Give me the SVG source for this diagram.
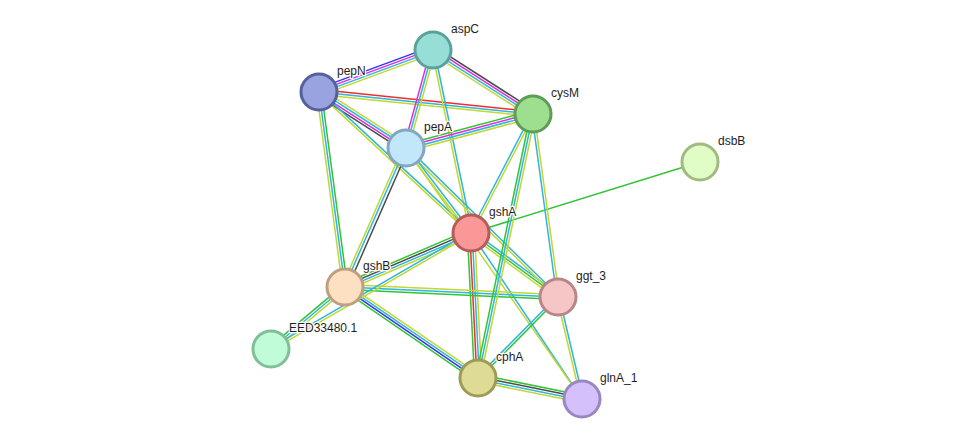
<svg xmlns="http://www.w3.org/2000/svg" width="975" height="445" viewBox="0 0 975 445">
<style>
line{stroke-width:1.5;fill:none}
.g{stroke:#33c433}.r{stroke:#f32b2b}.b{stroke:#3333f5}.m{stroke:#dc2adc}.c{stroke:#2eb6dc}.y{stroke:#c1d733}.k{stroke:#4a4a4a}
circle{stroke-width:3}
text{font-family:"Liberation Sans",Arial,sans-serif;font-size:12px;fill:#1e1e1e;stroke:#fff;stroke-width:2.5px;paint-order:stroke;stroke-linejoin:round}
</style>
<rect width="975" height="445" fill="#fff"/>
<g id="edges">
<g transform="translate(319,92) rotate(-20.23)"><line class="b" x2="121.5" y1="-3.6" y2="-3.6"/><line class="m" x2="121.5" y1="-1.2" y2="-1.2"/><line class="c" x2="121.5" y1="1.2" y2="1.2"/><line class="y" x2="121.5" y1="3.6" y2="3.6"/></g>
<g transform="translate(433,50) rotate(32.62)"><line class="k" x2="118.7" y1="-3.6" y2="-3.6"/><line class="m" x2="118.7" y1="-1.2" y2="-1.2"/><line class="c" x2="118.7" y1="1.2" y2="1.2"/><line class="y" x2="118.7" y1="3.6" y2="3.6"/></g>
<g transform="translate(319,92) rotate(5.87)"><line class="r" x2="215.1" y1="-2.4" y2="-2.4"/><line class="c" x2="215.1" y1="0" y2="0"/><line class="y" x2="215.1" y1="2.4" y2="2.4"/></g>
<g transform="translate(319,92) rotate(32.76)"><line class="y" x2="103.5" y1="-3.6" y2="-3.6"/><line class="c" x2="103.5" y1="-1.2" y2="-1.2"/><line class="m" x2="103.5" y1="1.2" y2="1.2"/><line class="k" x2="103.5" y1="3.6" y2="3.6"/></g>
<g transform="translate(319,92) rotate(42.85)"><line class="c" x2="207.3" y1="-1.2" y2="-1.2"/><line class="y" x2="207.3" y1="1.2" y2="1.2"/></g>
<g transform="translate(433,50) rotate(105.4)"><line class="y" x2="101.7" y1="-2.4" y2="-2.4"/><line class="c" x2="101.7" y1="0" y2="0"/><line class="m" x2="101.7" y1="2.4" y2="2.4"/></g>
<g transform="translate(433,50) rotate(78.27)"><line class="c" x2="186.9" y1="-1.2" y2="-1.2"/><line class="y" x2="186.9" y1="1.2" y2="1.2"/></g>
<g transform="translate(406,148) rotate(-14.99)"><line class="g" x2="131.5" y1="-3.6" y2="-3.6"/><line class="m" x2="131.5" y1="-1.2" y2="-1.2"/><line class="c" x2="131.5" y1="1.2" y2="1.2"/><line class="y" x2="131.5" y1="3.6" y2="3.6"/></g>
<g transform="translate(319,92) rotate(82.4)"><line class="g" x2="196.7" y1="-2.4" y2="-2.4"/><line class="c" x2="196.7" y1="0" y2="0"/><line class="y" x2="196.7" y1="2.4" y2="2.4"/></g>
<g transform="translate(406,148) rotate(113.7)"><line class="k" x2="151.8" y1="-2.6" y2="-2.6"/><line class="c" x2="151.8" y1="0.6" y2="0.6"/><line class="y" x2="151.8" y1="3" y2="3"/></g>
<g transform="translate(533,114) rotate(117.5)"><line class="y" x2="134.2" y1="-1.2" y2="-1.2"/><line class="c" x2="134.2" y1="1.2" y2="1.2"/></g>
<g transform="translate(345,287) rotate(-23.2)"><line class="g" x2="137.1" y1="-3.6" y2="-3.6"/><line class="k" x2="137.1" y1="-1.2" y2="-1.2"/><line class="c" x2="137.1" y1="1.2" y2="1.2"/><line class="y" x2="137.1" y1="3.6" y2="3.6"/></g>
<line class="g" x1="471" y1="233" x2="700" y2="162"/>
<g transform="translate(471,233) rotate(87.2)"><line class="y" x2="145.2" y1="-3.6" y2="-3.6"/><line class="c" x2="145.2" y1="-1.2" y2="-1.2"/><line class="r" x2="145.2" y1="1.2" y2="1.2"/><line class="g" x2="145.2" y1="3.6" y2="3.6"/></g>
<g transform="translate(471,233) rotate(36.3)"><line class="c" x2="108" y1="-2.4" y2="-2.4"/><line class="g" x2="108" y1="0" y2="0"/><line class="y" x2="108" y1="2.4" y2="2.4"/></g>
<g transform="translate(406,148) rotate(44.43)"><line class="c" x2="212.9" y1="-1.2" y2="-1.2"/><line class="y" x2="212.9" y1="1.2" y2="1.2"/></g>
<g transform="translate(406,148) rotate(52.6)"><line class="c" x2="107" y1="-1.2" y2="-1.2"/><line class="y" x2="107" y1="1.2" y2="1.2"/></g>
<line class="c" x1="471" y1="233" x2="582" y2="399"/>
<line class="y" x1="406" y1="148" x2="582" y2="399"/>
<g transform="translate(345,287) rotate(2.69)"><line class="y" x2="213.2" y1="-2.4" y2="-2.4"/><line class="c" x2="213.2" y1="0" y2="0"/><line class="g" x2="213.2" y1="2.4" y2="2.4"/></g>
<g transform="translate(345,287) rotate(34.4)"><line class="y" x2="161.2" y1="-3.6" y2="-3.6"/><line class="c" x2="161.2" y1="-1.2" y2="-1.2"/><line class="b" x2="161.2" y1="1.2" y2="1.2"/><line class="g" x2="161.2" y1="3.6" y2="3.6"/></g>
<g transform="translate(271,349) rotate(-39.96)"><line class="g" x2="96.5" y1="-2.4" y2="-2.4"/><line class="c" x2="96.5" y1="0" y2="0"/><line class="y" x2="96.5" y1="2.4" y2="2.4"/></g>
<g transform="translate(271,349) rotate(-30.11)"><line class="c" x2="231.2" y1="-1.2" y2="-1.2"/><line class="y" x2="231.2" y1="1.2" y2="1.2"/></g>
<g transform="translate(558,297) rotate(134.65)"><line class="g" x2="113.8" y1="-1.2" y2="-1.2"/><line class="c" x2="113.8" y1="1.2" y2="1.2"/></g>
<g transform="translate(558,297) rotate(76.76)"><line class="c" x2="104.8" y1="-1.2" y2="-1.2"/><line class="y" x2="104.8" y1="1.2" y2="1.2"/></g>
<g transform="translate(478,378) rotate(11.42)"><line class="g" x2="106.1" y1="-3.6" y2="-3.6"/><line class="k" x2="106.1" y1="-1.2" y2="-1.2"/><line class="c" x2="106.1" y1="1.2" y2="1.2"/><line class="y" x2="106.1" y1="3.6" y2="3.6"/></g>
<g transform="translate(533,114) rotate(101.77)"><line class="y" x2="269.7" y1="-2.4" y2="-2.4"/><line class="c" x2="269.7" y1="0" y2="0"/><line class="g" x2="269.7" y1="2.4" y2="2.4"/></g>
<g transform="translate(533,114) rotate(82.2)"><line class="y" x2="184.7" y1="-1.2" y2="-1.2"/><line class="c" x2="184.7" y1="1.2" y2="1.2"/></g>
</g>
<g id="aspC"><circle cx="433" cy="50" r="18" fill="#97dfd6" stroke="#5aa39b"/><text x="451" y="32.5">aspC</text></g>
<g id="pepN"><circle cx="319" cy="92" r="18" fill="#99a3df" stroke="#55609c"/><text x="337" y="74.5">pepN</text></g>
<g id="cysM"><circle cx="533" cy="114" r="18" fill="#9ddf8f" stroke="#5e9c57"/><text x="551" y="96.5">cysM</text></g>
<g id="pepA"><circle cx="406" cy="148" r="18" fill="#c3e7fa" stroke="#81a8bf"/><text x="424" y="130.5">pepA</text></g>
<g id="dsbB"><circle cx="700" cy="162" r="18" fill="#e0fdc5" stroke="#a0ba80"/><text x="718" y="144.5">dsbB</text></g>
<g id="gshA"><circle cx="471" cy="233" r="18" fill="#fa9797" stroke="#b65a5a"/><text x="489" y="215.5">gshA</text></g>
<g id="gshB"><circle cx="345" cy="287" r="18" fill="#fde0c2" stroke="#bf9f82"/><text x="363" y="269.5">gshB</text></g>
<g id="ggt_3"><circle cx="558" cy="297" r="18" fill="#f6c6c6" stroke="#b88686"/><text x="576" y="279.5">ggt_3</text></g>
<g id="EED33480.1"><circle cx="271" cy="349" r="18" fill="#c1fcd9" stroke="#80bf98"/><text x="289" y="331.5">EED33480.1</text></g>
<g id="cphA"><circle cx="478" cy="378" r="18" fill="#dddb96" stroke="#9e9b57"/><text x="496" y="360.5">cphA</text></g>
<g id="glnA_1"><circle cx="582" cy="399" r="18" fill="#d4c1fb" stroke="#9a87c2"/><text x="600" y="381.5">glnA_1</text></g>
</svg>
